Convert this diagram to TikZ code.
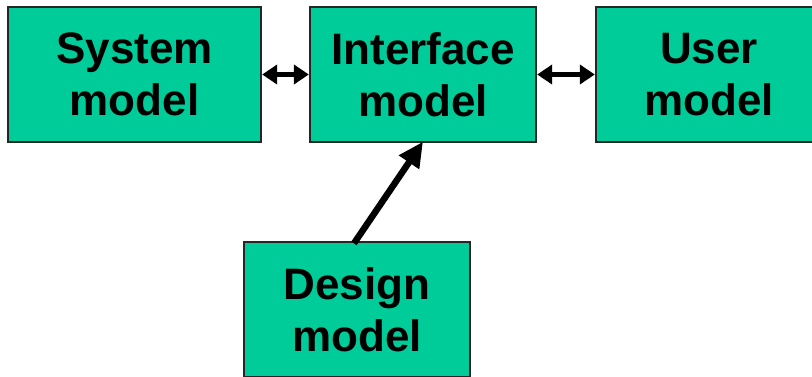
\documentclass[tikz,border=0pt]{standalone}
\usepackage{fontspec}
\setmainfont{Liberation Sans}
\usetikzlibrary{arrows.meta}
\definecolor{boxgreen}{HTML}{00CC99}
\tikzset{
  modelbox/.style={draw=black!85, line width=1.3pt, fill=boxgreen, minimum width=226pt, minimum height=135pt, inner sep=0pt, align=center, font=\bfseries\fontsize{44}{52}\selectfont},
  dblarrow/.style={line width=5.5pt, {Triangle[length=15pt,width=19pt]}-{Triangle[length=15pt,width=19pt]}, shorten <=0.5pt, shorten >=0.5pt},
  bigarrow/.style={line width=6.5pt, -{Triangle[length=25pt,width=23pt]}}
}
\begin{document}
\begin{tikzpicture}[x=1pt,y=-1pt]
\useasboundingbox (0,0) rectangle (812,376);
\clip (0,0) rectangle (812,376);
\node[modelbox, minimum width=253pt] (system) at (134.5,74.5) {System\\model};
\node[modelbox] (interface) at (423,74.5) {Interface\\model};
\node[modelbox] (user) at (709,74.5) {User\\model};
\node[modelbox] (design) at (357,309.5) {Design\\model};
\draw[dblarrow] (system.east) -- (interface.west);
\draw[dblarrow] (interface.east) -- (user.west);
\draw[bigarrow] ([xshift=-3pt,yshift=-2pt]design.north) -- ([yshift=1pt]interface.south);
\end{tikzpicture}
\end{document}
